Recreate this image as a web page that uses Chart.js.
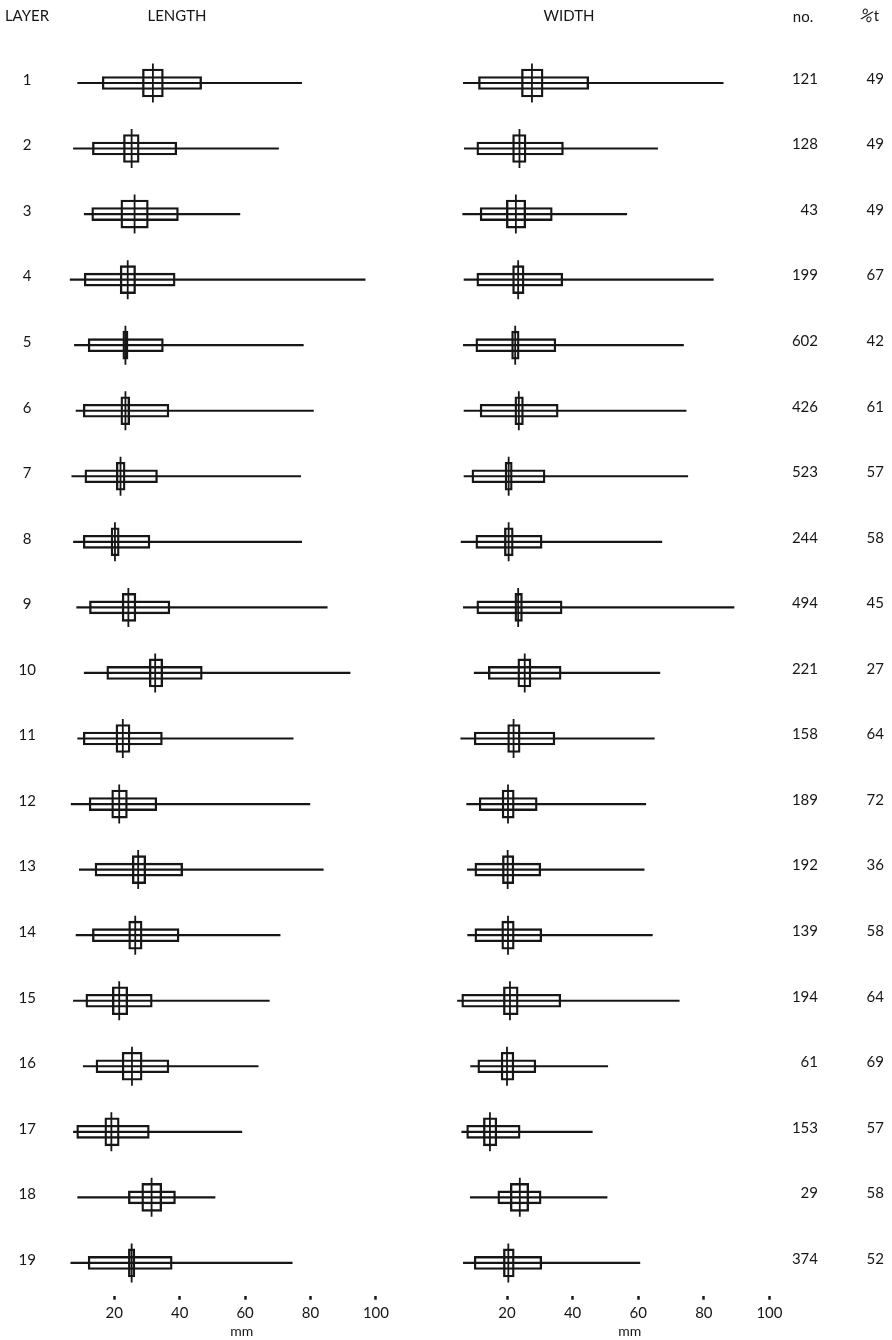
<!DOCTYPE html>
<html lang="en">
<head>
  <meta charset="UTF-8">
  <title>Length and width by layer</title>
  <script src="https://cdn.jsdelivr.net/npm/chart.js"></script>
  <style>
    body {
      margin: 0;
      background: #fff;
      font-family: 'Lato', sans-serif;
      color: #161616;
    }
    .page {
      position: relative;
      width: 892px;
      height: 1340px;
      overflow: hidden;
    }
    .page canvas {
      position: absolute;
      left: 0;
      top: 0;
    }
    .head {
      position: absolute;
      font-size: 15px;
      line-height: 1;
      transform: translate(-50%, -50%);
      white-space: nowrap;
    }
    .pct span {
      display: inline-block;
      transform: rotate(22deg);
      font-size: 16px;
    }
  </style>
</head>
<body>
  <div class="page">
    <canvas id="lengthChart" width="892" height="1340"></canvas>
    <canvas id="widthChart" width="892" height="1340"></canvas>
    <div class="head" style="left:27px;top:15px">LAYER</div>
    <div class="head" style="left:177px;top:15px">LENGTH</div>
    <div class="head" style="left:569px;top:15px">WIDTH</div>
    <div class="head" style="left:803px;top:16px">no.</div>
    <div class="head pct" style="left:870px;top:15px"><span>%</span>t</div>
  </div>

  <script>
    const layers = ['1', '2', '3', '4', '5', '6', '7', '8', '9', '10',
                    '11', '12', '13', '14', '15', '16', '17', '18', '19'];
    const xTicks = [20, 40, 60, 80, 100];
    const counts = [121, 128, 43, 199, 602, 426, 523, 244, 494, 221, 158, 189, 192, 139, 194, 61, 153, 29, 374];
    const pctT = [49, 49, 49, 67, 42, 61, 57, 58, 45, 27, 64, 72, 36, 58, 64, 69, 57, 58, 52];

    // length (mm): range, wide box, narrow box, mean
    const lenMin = [8.8, 7.5, 10.8, 6.5, 7.8, 8.3, 7.0, 7.5, 8.5, 10.8, 8.8, 6.8, 9.3, 8.3, 7.5, 10.5, 7.5, 8.8, 6.7];
    const lenMax = [77.3, 70.2, 58.4, 96.7, 77.8, 80.9, 77.0, 77.3, 85.1, 92.1, 74.7, 79.8, 83.9, 70.7, 67.4, 64.0, 59.0, 50.8, 74.4];
    const lenBoxLo = [16.3, 13.3, 13.1, 10.8, 12.0, 10.5, 11.0, 10.5, 12.4, 17.7, 10.5, 12.3, 14.1, 13.3, 11.3, 14.4, 8.5, 24.3, 12.0];
    const lenBoxHi = [46.7, 39.1, 39.6, 38.6, 35.0, 36.7, 33.2, 30.9, 37.0, 46.9, 34.7, 33.0, 40.9, 39.8, 31.6, 36.7, 30.7, 38.7, 37.7];
    const lenInLo = [28.6, 22.8, 22.0, 21.8, 22.6, 22.0, 20.6, 19.0, 22.4, 30.7, 20.5, 19.2, 25.5, 24.4, 19.4, 22.4, 17.1, 28.4, 24.3];
    const lenInHi = [35.0, 27.6, 30.4, 26.5, 24.2, 24.7, 23.3, 21.5, 26.6, 34.8, 24.8, 24.0, 29.6, 28.5, 24.1, 28.5, 21.5, 34.5, 26.3];
    const lenMean = [31.8, 25.3, 26.2, 24.1, 23.4, 23.4, 21.9, 20.2, 24.3, 32.5, 22.6, 21.5, 27.3, 26.4, 21.5, 25.4, 19.1, 31.4, 25.3];

    // width (mm)
    const widMin = [6.7, 7.0, 6.5, 6.9, 6.7, 6.9, 6.9, 6.0, 6.7, 10.0, 5.9, 7.7, 7.9, 8.0, 4.9, 8.9, 6.2, 8.8, 6.7];
    const widMax = [85.9, 65.9, 56.5, 82.9, 73.8, 74.6, 75.1, 67.2, 89.2, 66.6, 64.9, 62.3, 61.8, 64.3, 72.5, 50.7, 46.0, 50.5, 60.5];
    const widBoxLo = [11.3, 10.8, 11.8, 10.8, 10.5, 11.8, 9.3, 10.5, 10.8, 14.3, 10.0, 11.5, 10.2, 10.2, 6.2, 11.1, 7.7, 17.2, 10.0];
    const widBoxHi = [44.9, 37.2, 33.8, 37.0, 34.9, 35.6, 31.6, 30.7, 36.8, 36.5, 34.6, 29.2, 30.3, 30.6, 36.4, 28.8, 24.0, 30.4, 30.6];
    const widInLo = [24.4, 21.7, 19.8, 21.7, 21.4, 22.4, 19.4, 19.2, 22.4, 23.3, 20.2, 18.5, 18.6, 18.4, 18.9, 18.2, 12.8, 21.0, 18.9];
    const widInHi = [31.0, 25.8, 25.7, 25.2, 23.7, 25.0, 21.6, 21.9, 24.7, 27.3, 24.0, 22.2, 22.1, 22.2, 23.4, 22.1, 16.9, 26.6, 22.2];
    const widMean = [27.6, 23.8, 22.7, 23.4, 22.5, 23.6, 20.5, 20.5, 23.4, 25.4, 22.0, 20.3, 20.2, 20.3, 20.9, 20.0, 14.8, 23.9, 20.4];

    const ink = '#161616';
    const labelFont = { family: 'Lato', size: 15 };

    function pairs(lo, hi) {
      return lo.map((v, i) => [v, hi[i]]);
    }

    function marks(min, max, boxLo, boxHi, inLo, inHi, mean) {
      return [
        { type: 'bar', data: pairs(min, max), barThickness: 1.5, backgroundColor: ink, borderWidth: 0, grouped: false },
        { type: 'bar', data: pairs(boxLo, boxHi), barThickness: 13, backgroundColor: 'rgba(0,0,0,0)',
          borderColor: ink, borderWidth: 1.7, borderSkipped: false, grouped: false },
        { type: 'bar', data: pairs(inLo, inHi), barThickness: 28, backgroundColor: 'rgba(0,0,0,0)',
          borderColor: ink, borderWidth: 1.7, borderSkipped: false, grouped: false },
        { type: 'line', data: mean, indexAxis: 'y', showLine: false, pointStyle: 'line', pointRotation: 90,
          pointRadius: 19.5, pointBorderWidth: 1.8, pointBorderColor: ink, pointBackgroundColor: ink }
      ];
    }

    function xScale(max) {
      return {
        type: 'linear',
        min: 0,
        max: max,
        afterBuildTicks: s => { s.ticks = xTicks.map(v => ({ value: v })); },
        afterFit: s => { s.height = 44.3; },
        grid: { drawOnChartArea: false, drawTicks: true, tickLength: 4, tickWidth: 2.5, tickColor: ink },
        border: { display: false },
        ticks: { font: labelFont, color: ink, padding: 4, maxRotation: 0, autoSkip: false },
        title: { display: true, text: 'mm', font: { family: 'Lato', size: 14 }, color: ink, padding: 0 }
      };
    }

    function sideScale(labels, width, ticks, extra) {
      return Object.assign({
        type: 'category',
        labels: labels,
        offset: true,
        afterFit: s => { s.width = width; },
        grid: { display: false, drawTicks: false },
        border: { display: false },
        ticks: Object.assign({ font: labelFont, color: ink, autoSkip: false, labelOffset: -3 }, ticks)
      }, extra);
    }

    const common = {
      responsive: false,
      animation: false,
      events: [],
      indexAxis: 'y',
      plugins: { legend: { display: false }, tooltip: { enabled: false } }
    };

    // LENGTH panel
    new Chart(document.getElementById('lengthChart'), {
      type: 'bar',
      data: { labels: layers, datasets: marks(lenMin, lenMax, lenBoxLo, lenBoxHi, lenInLo, lenInHi, lenMean) },
      options: Object.assign({}, common, {
        layout: { padding: { top: 50.2, left: 0, right: 457.2, bottom: 0 } },
        scales: {
          x: xScale(118),
          y: sideScale(layers, 48.9, { crossAlign: 'center', padding: 13 })
        }
      })
    });

    // WIDTH panel, with the no. and %t columns on the right
    new Chart(document.getElementById('widthChart'), {
      type: 'bar',
      data: { labels: layers, datasets: marks(widMin, widMax, widBoxLo, widBoxHi, widInLo, widInHi, widMean) },
      options: Object.assign({}, common, {
        layout: { padding: { top: 50.2, left: 441.4, right: 8, bottom: 0 } },
        scales: {
          x: xScale(114.8),
          y: { type: 'category', offset: true, display: false },
          yNo: sideScale(counts.map(String), 0, { mirror: true, padding: 0, crossAlign: 'near', labelOffset: -4 },
            { position: 'right', weight: 1 }),
          yPct: sideScale(pctT.map(String), 66, { crossAlign: 'far', labelOffset: -4 },
            { position: 'right', weight: 2 })
        }
      })
    });
  </script>
</body>
</html>
